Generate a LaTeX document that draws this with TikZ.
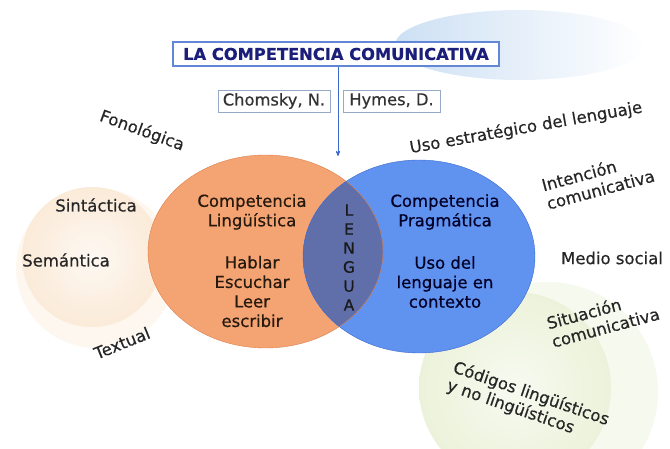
\documentclass[tikz,border=0pt]{standalone}
\usepackage{fontspec}
\setmainfont{DejaVu Sans}[FakeBold=0.5]
\usepackage{tikz}
\usetikzlibrary{arrows}
\usetikzlibrary{positioning}
\definecolor{naranja}{RGB}{244,163,115}
\definecolor{naranjaborde}{RGB}{222,128,70}
\definecolor{azul}{RGB}{96,146,240}
\definecolor{azulborde}{RGB}{60,105,205}
\definecolor{cruce}{RGB}{96,110,170}
\definecolor{marino}{RGB}{27,31,122}
\definecolor{cielo}{RGB}{205,224,244}
\definecolor{crema}{RGB}{250,232,212}
\definecolor{verdoso}{RGB}{236,242,218}
\definecolor{marco}{RGB}{150,170,200}
\tikzset{
 etiq/.style={font=\fontsize{16.5}{19}\selectfont, text=black!85, inner sep=1pt},
 dentro/.style={font=\fontsize{16.5}{19.5}\selectfont, align=center, inner sep=1pt},
 autor/.style={draw=marco, fill=white, font=\fontsize{16.3}{18}\selectfont, text=black!80, inner xsep=5pt, minimum height=22pt, inner ysep=2pt}
}

\begin{document}
\begin{tikzpicture}[x=1pt,y=-1pt]
\useasboundingbox (0,0) rectangle (670,449);
% fondos
\shade[left color=cielo, right color=white] (520,45) ellipse (125 and 35);
\fill[crema!35] (96,268) circle (80);
\shade[inner color=crema!30, outer color=crema!90] (92,257) circle (70);
\fill[verdoso!45] (548,392) circle (110);
\shade[inner color=verdoso!40, outer color=verdoso] (515,388) circle (96);
% venn
\fill[naranja] (265.5,251.5) ellipse (117.5 and 96.5);
\fill[azul] (419,256.5) ellipse (116 and 96.5);
\begin{scope}
\clip (265.5,251.5) ellipse (117.5 and 96.5);
\fill[cruce] (419,256.5) ellipse (116 and 96.5);
\end{scope}
\draw[naranjaborde, thin] (265.5,251.5) ellipse (117.5 and 96.5);
\draw[azulborde, thin] (419,256.5) ellipse (116 and 96.5);
% titulo
\node[draw=azulborde!80, line width=1.2pt, fill=white, minimum width=326pt, minimum height=24pt, inner sep=0pt,
 font=\fontsize{16.3}{18}\selectfont\bfseries, text=marino] (titulo) at (336,54) {LA COMPETENCIA COMUNICATIVA};
\node[autor, minimum width=112pt] (chomsky) at (274,101) {Chomsky, N.};
\node[autor, minimum width=97pt] (hymes) at (391.5,101) {Hymes, D.};
\coordinate (fin) at (338,156);
\draw[azulborde, thick, ->, >=stealth'] (titulo.south -| fin) -- (fin);
% circulo linguistico
\node[dentro, text=black!80!brown] (ling) at (252,212) {Competencia\\Lingüística};
\node[dentro, text=black!80!brown] (hablar) at (252,291.5) {Hablar\\Escuchar\\Leer\\escribir};
\node[dentro, text=black!85!blue] (prag) at (445,212) {Competencia\\Pragmática};
\node[dentro, text=black!85!blue] (uso) at (445,282) {Uso del\\lenguaje en\\contexto};
\node[font=\fontsize{15.5}{19}\selectfont, align=center, text=black!90, inner sep=0pt] (lengua) at (349,257.5) {L\\E\\N\\G\\U\\A};
% lado izquierdo
\node[etiq, rotate=-20] (fono) at (142,131) {Fonológica};
\node[etiq] (sint) at (96,205) {Sintáctica};
\node[etiq] (sema) at (66,260) {Semántica};
\node[etiq, rotate=22] (text) at (122,343) {Textual};
% lado derecho
\node[etiq, rotate=10] (estrat) at (526,128) {Uso estratégico del lenguaje};
\node[etiq, rotate=15, align=left] (inten) at (598,180) {Intención\\comunicativa};
\node[etiq] (medio) at (612,258) {Medio social};
\node[etiq, rotate=15, align=left] (situ) at (603,318) {Situación\\comunicativa};
\node[etiq, rotate=-19, align=left] (codigos) at (528,403) {Códigos lingüísticos\\y no lingüísticos};
\end{tikzpicture}
\end{document}
